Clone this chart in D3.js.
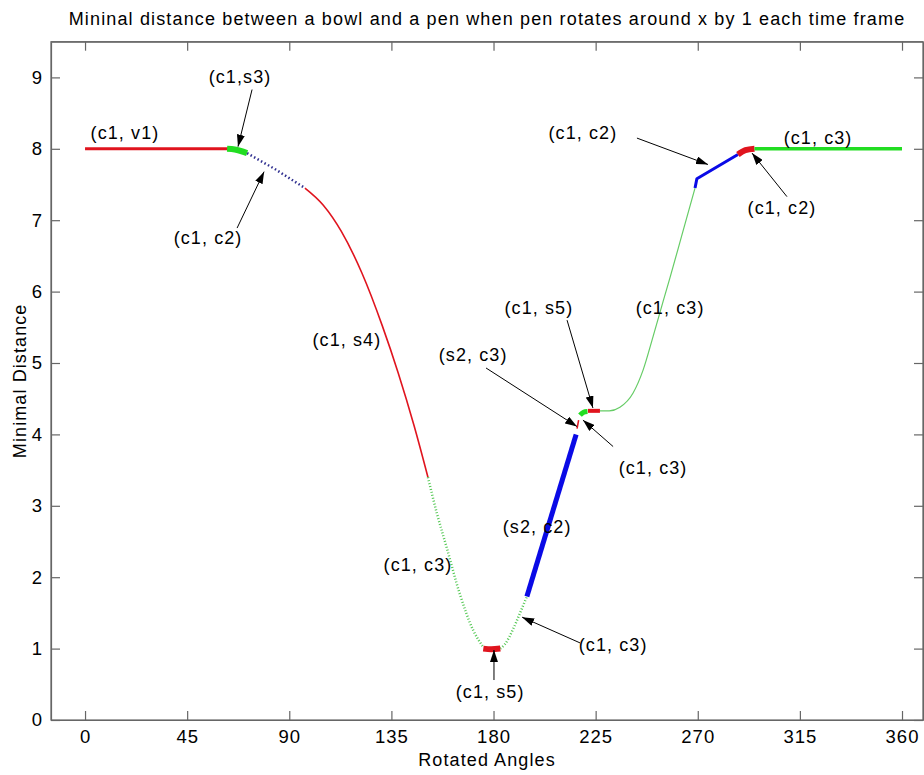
<!DOCTYPE html>
<html>
<head>
<meta charset="utf-8">
<script src="https://cdn.jsdelivr.net/npm/d3@7"></script>
<style>
  html, body { margin: 0; padding: 0; background: #fff; }
  svg { display: block; font-family: "Liberation Sans", Arial, sans-serif; }
</style>
</head>
<body>
<svg id="chart" width="924" height="775"></svg>
<script>
// ---------------- data ----------------
const chartTitle = "Mininal distance between a bowl and a pen when pen rotates around x by 1 each time frame";
const xLabel = "Rotated Angles";
const yLabel = "Minimal Distance";
const xTicks = [0, 45, 90, 135, 180, 225, 270, 315, 360];
const yTicks = [0, 1, 2, 3, 4, 5, 6, 7, 8, 9];
const xDomain = [-15, 369.25];
const yDomain = [0, 9.5];

// segments: [angle, minimal distance]
const segC1V1   = [[0, 8], [63, 8]];
const segC1S3   = [[62.6, 8.0], [66, 7.99], [71.4, 7.94]];
const segC1C2a  = [[71.4, 7.94], [84, 7.71], [96.9, 7.45]];
const segC1S4   = [[96.9, 7.45], [105, 7.21], [113, 6.84], [122, 6.26], [131, 5.52], [138, 4.86], [145, 4.12], [151.1, 3.4]];
const segC1C3a  = [[151.1, 3.4], [155, 2.9], [159.5, 2.4], [165, 1.78], [171, 1.26], [175.5, 1.02]];
const segC1S5a  = [[175.5, 1.0], [179, 0.99], [183, 1.0]];
const segC1C3b  = [[183, 1.0], [185, 1.06], [188.6, 1.27], [191.7, 1.5], [194.7, 1.73]];
const segS2C2   = [[194.7, 1.73], [216.4, 4.0]];
const segS2C3   = [[216.8, 4.08], [217.5, 4.2]];
const segC1C3c  = [[218.1, 4.27], [219.6, 4.31], [221.4, 4.32]];
const segC1S5b  = [[221.6, 4.33], [226.9, 4.33]];
const segC1C3d  = [[226.9, 4.33], [231, 4.33], [235.7, 4.38], [241.5, 4.58], [245.9, 4.9], [250.3, 5.37], [254.7, 5.86], [257.8, 6.2], [263, 6.79], [268.8, 7.45]];
const segC1C2b  = [[268.8, 7.45], [269.6, 7.58], [287.7, 7.92]];
const segC1C2c  = [[287.7, 7.92], [291, 7.98], [295, 8.0]];
const segC1C3e  = [[295, 8.0], [360, 8.0]];

// annotation labels: [text, angle, distance]
const labels = [
  ["(c1, v1)", 17.6, 8.22],
  ["(c1,s3)", 68.3, 9.0],
  ["(c1, c2)", 54.2, 6.75],
  ["(c1, s4)", 115.4, 5.32],
  ["(c1, c3)", 146.7, 2.17],
  ["(c1, s5)", 178.5, 0.39],
  ["(c1, c3)", 232.7, 1.05],
  ["(s2, c2)", 199.2, 2.7],
  ["(s2, c3)", 171.0, 5.11],
  ["(c1, s5)", 200.0, 5.77],
  ["(c1, c3)", 250.3, 3.53],
  ["(c1, c3)", 257.8, 5.77],
  ["(c1, c2)", 219.4, 8.22],
  ["(c1, c3)", 323.0, 8.15],
  ["(c1, c2)", 307.1, 7.17]
];

// arrows: [tailAngle, tailDist, headAngle, headDist]
const arrows = [
  [73.6, 8.83, 67.4, 8.03],
  [67.0, 6.89, 78.9, 7.68],
  [180.2, 0.56, 180.2, 0.98],
  [218.1, 1.08, 192.6, 1.44],
  [176.7, 4.93, 216.8, 4.11],
  [212.4, 5.60, 223.8, 4.37],
  [232.7, 3.83, 219.4, 4.20],
  [243.2, 8.15, 274.5, 7.78],
  [309.3, 7.33, 293.9, 7.94]
];

// ---------------- styles ----------------
const RED = "#e0141e", GREEN = "#22dd22", BLUE = "#0a0ae6";
const segments = [
  { d: segC1V1,  color: RED,   w: 3 },
  { d: segC1S3,  color: GREEN, w: 6 },
  { d: segC1C2a, color: "#303090", w: 2.5, dash: "1.5,2.5", straight: true },
  { d: segC1S4,  color: RED,   w: 1.6 },
  { d: segC1C3a, color: "#55c855", w: 2.5, dash: "1,2" },
  { d: segC1C3b, color: "#55c855", w: 2.5, dash: "1,2" },
  { d: segC1S5a, color: RED,   w: 6 },
  { d: segS2C2,  color: BLUE,  w: 5 },
  { d: segS2C3,  color: RED,   w: 1.5 },
  { d: segC1C3c, color: GREEN, w: 5 },
  { d: segC1S5b, color: RED,   w: 4 },
  { d: segC1C3d, color: "#66cc66", w: 1.2 },
  { d: segC1C2b, color: BLUE,  w: 3, straight: true },
  { d: segC1C2c, color: RED,   w: 6 },
  { d: segC1C3e, color: GREEN, w: 3.5 }
];

// ---------------- drawing ----------------
const svg = d3.select("#chart");
const pLeft = 51, pRight = 923, pTop = 41.7, pBottom = 720;
const x = d3.scaleLinear().domain(xDomain).range([pLeft, pRight]);
const y = d3.scaleLinear().domain(yDomain).range([pBottom, pTop]);
const axisColor = "#666";
const fontSize = 18;
const fontFam = '"Liberation Sans", Arial, sans-serif';
const ls = 1.1;

svg.append("rect").attr("width", 924).attr("height", 775).attr("fill", "#fff");

// frame
svg.append("rect")
  .attr("x", pLeft).attr("y", pTop)
  .attr("width", pRight - pLeft).attr("height", pBottom - pTop)
  .attr("fill", "none").attr("stroke", axisColor).attr("stroke-width", 1.2);

// axes via d3 axis generators (inside ticks)
const xAxisB = svg.append("g").attr("transform", `translate(0,${pBottom})`)
  .call(d3.axisBottom(x).tickValues(xTicks).tickSizeInner(-9).tickSizeOuter(0).tickPadding(10));
const xAxisT = svg.append("g").attr("transform", `translate(0,${pTop})`)
  .call(d3.axisTop(x).tickValues(xTicks).tickSizeInner(-9).tickSizeOuter(0).tickFormat(""));
const yAxisL = svg.append("g").attr("transform", `translate(${pLeft},0)`)
  .call(d3.axisLeft(y).tickValues(yTicks).tickSizeInner(-9).tickSizeOuter(0).tickPadding(8));
const yAxisR = svg.append("g").attr("transform", `translate(${pRight},0)`)
  .call(d3.axisRight(y).tickValues(yTicks).tickSizeInner(-9).tickSizeOuter(0).tickFormat(""));

[xAxisB, xAxisT, yAxisL, yAxisR].forEach(g => {
  g.select(".domain").attr("stroke", axisColor).attr("stroke-width", 1.2);
  g.selectAll(".tick line").attr("stroke", axisColor).attr("stroke-width", 1.2);
  g.selectAll(".tick text").attr("fill", "#000")
    .attr("font-size", 18.5).attr("font-family", fontFam).attr("letter-spacing", 1);
});

// curves
const smooth = d3.line().x(d => x(d[0])).y(d => y(d[1])).curve(d3.curveMonotoneX);
const straight = d3.line().x(d => x(d[0])).y(d => y(d[1]));
segments.forEach(s => {
  svg.append("path")
    .attr("d", (s.straight ? straight : smooth)(s.d))
    .attr("fill", "none")
    .attr("stroke", s.color)
    .attr("stroke-width", s.w)
    .attr("stroke-dasharray", s.dash || null)
    .attr("stroke-linejoin", "round");
});

// arrow marker
svg.append("defs").append("marker")
  .attr("id", "ah")
  .attr("markerUnits", "userSpaceOnUse")
  .attr("viewBox", "0 0 12 8")
  .attr("refX", 12).attr("refY", 4)
  .attr("markerWidth", 12).attr("markerHeight", 8)
  .attr("orient", "auto")
  .append("path").attr("d", "M0,0 L12,4 L0,8 Z").attr("fill", "#000");

svg.append("g").selectAll("line").data(arrows).join("line")
  .attr("x1", d => x(d[0])).attr("y1", d => y(d[1]))
  .attr("x2", d => x(d[2])).attr("y2", d => y(d[3]))
  .attr("stroke", "#000").attr("stroke-width", 1)
  .attr("marker-end", "url(#ah)");

// annotation labels
svg.append("g").selectAll("text").data(labels).join("text")
  .attr("x", d => x(d[1])).attr("y", d => y(d[2]))
  .attr("text-anchor", "middle")
  .attr("dominant-baseline", "central")
  .attr("font-size", fontSize)
  .attr("font-family", fontFam)
  .attr("letter-spacing", ls)
  .attr("fill", "#000")
  .text(d => d[0]);

// title & axis labels
svg.append("text")
  .attr("x", (pLeft + pRight) / 2).attr("y", 25)
  .attr("text-anchor", "middle").attr("font-size", 18).attr("font-family", fontFam)
  .attr("letter-spacing", 1.15).attr("fill", "#000")
  .text(chartTitle);

svg.append("text")
  .attr("x", (pLeft + pRight) / 2).attr("y", 766)
  .attr("text-anchor", "middle").attr("font-size", fontSize).attr("font-family", fontFam)
  .attr("letter-spacing", ls).attr("fill", "#000")
  .text(xLabel);

svg.append("text")
  .attr("transform", `translate(26,${(pTop + pBottom) / 2}) rotate(-90)`)
  .attr("text-anchor", "middle").attr("font-size", fontSize).attr("font-family", fontFam)
  .attr("letter-spacing", ls).attr("fill", "#000")
  .text(yLabel);
</script>
</body>
</html>
